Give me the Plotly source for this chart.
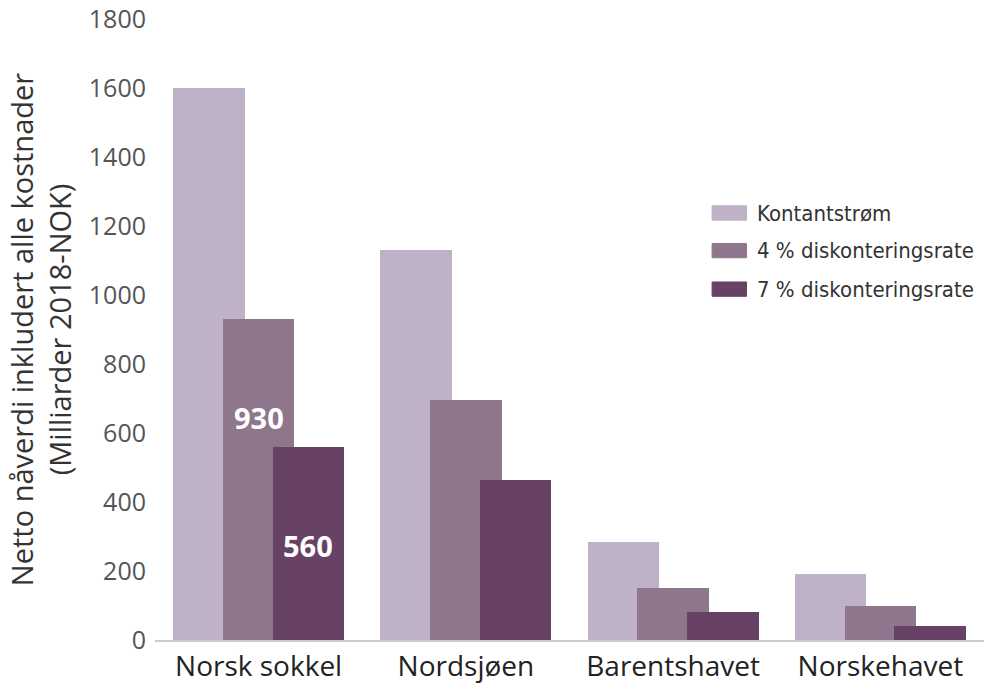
import plotly.graph_objects as go

categories = ["Norsk sokkel", "Nordsjøen", "Barentshavet", "Norskehavet"]
series_names = ["Kontantstrøm", "4 % diskonteringsrate", "7 % diskonteringsrate"]
kontantstrom = [1600, 1130, 285, 190]
rate4 = [930, 695, 150, 100]
rate7 = [560, 465, 80, 40]
y_ticks = [0, 200, 400, 600, 800, 1000, 1200, 1400, 1600, 1800]
labels = [("930", 1, 0, 645), ("560", 2, 0, 275)]  # text, series index, category index, y position

colors = ["#BFB1C7", "#8E778C", "#674264"]
bar_w = 0.345
offsets = [-0.413, -0.1725, 0.068]

fig = go.Figure()
for name, vals, col, off in zip(series_names, [kontantstrom, rate4, rate7], colors, offsets):
    fig.add_trace(go.Bar(
        x=list(range(len(categories))), y=vals, name=name,
        width=bar_w, offset=off, marker=dict(color=col, line=dict(width=0)),
        showlegend=False,
    ))

for text, si, ci, yv in labels:
    fig.add_annotation(x=ci + offsets[si] + bar_w / 2, y=yv, text=f"<b>{text}</b>",
                       showarrow=False, font=dict(family="Open Sans", size=29, color="white"),
                       xanchor="center", yanchor="middle")

# custom legend
leg_y = [0.6876, 0.627, 0.565]
for name, col, yy in zip(series_names, colors, leg_y):
    fig.add_shape(type="rect", xref="paper", yref="paper",
                  x0=0.672, x1=0.7135, y0=yy - 0.0115, y1=yy + 0.0115,
                  fillcolor=col, line=dict(width=1, color=col))
    fig.add_annotation(xref="paper", yref="paper", x=0.724, y=yy, text=name,
                       showarrow=False, xanchor="left", yanchor="middle",
                       font=dict(family="DejaVu Sans Condensed", size=22, color="#333333"))

fig.update_layout(
    width=985, height=686,
    margin=dict(l=155, r=1, t=19, b=46, autoexpand=False),
    paper_bgcolor="white", plot_bgcolor="white",
    barmode="overlay", bargap=0,
    font=dict(family="Open Sans", color="#222222"),
    xaxis=dict(range=[-0.5, 3.5], tickmode="array", tickvals=list(range(len(categories))),
               ticktext=categories, showgrid=False, zeroline=False, showline=True,
               linecolor="#CCCCCC", linewidth=2, ticks="", ticklabelstandoff=0,
               tickfont=dict(family="Open Sans", size=28, color="#222222")),
    yaxis=dict(range=[0, 1800], tickmode="array", tickvals=y_ticks, showgrid=False,
               zeroline=False, showline=False, ticks="", ticklabelstandoff=8,
               tickfont=dict(family="Open Sans", size=25, color="#555555"),
               title=dict(text="Netto nåverdi inkludert alle kostnader<br>(Milliarder 2018-NOK)",
                          font=dict(family="Open Sans", size=29, color="#333333"), standoff=8)),
)

fig.write_html("out.html", config={"displayModeBar": False},
               post_script="document.body.style.margin='0';document.body.style.overflow='hidden';")
